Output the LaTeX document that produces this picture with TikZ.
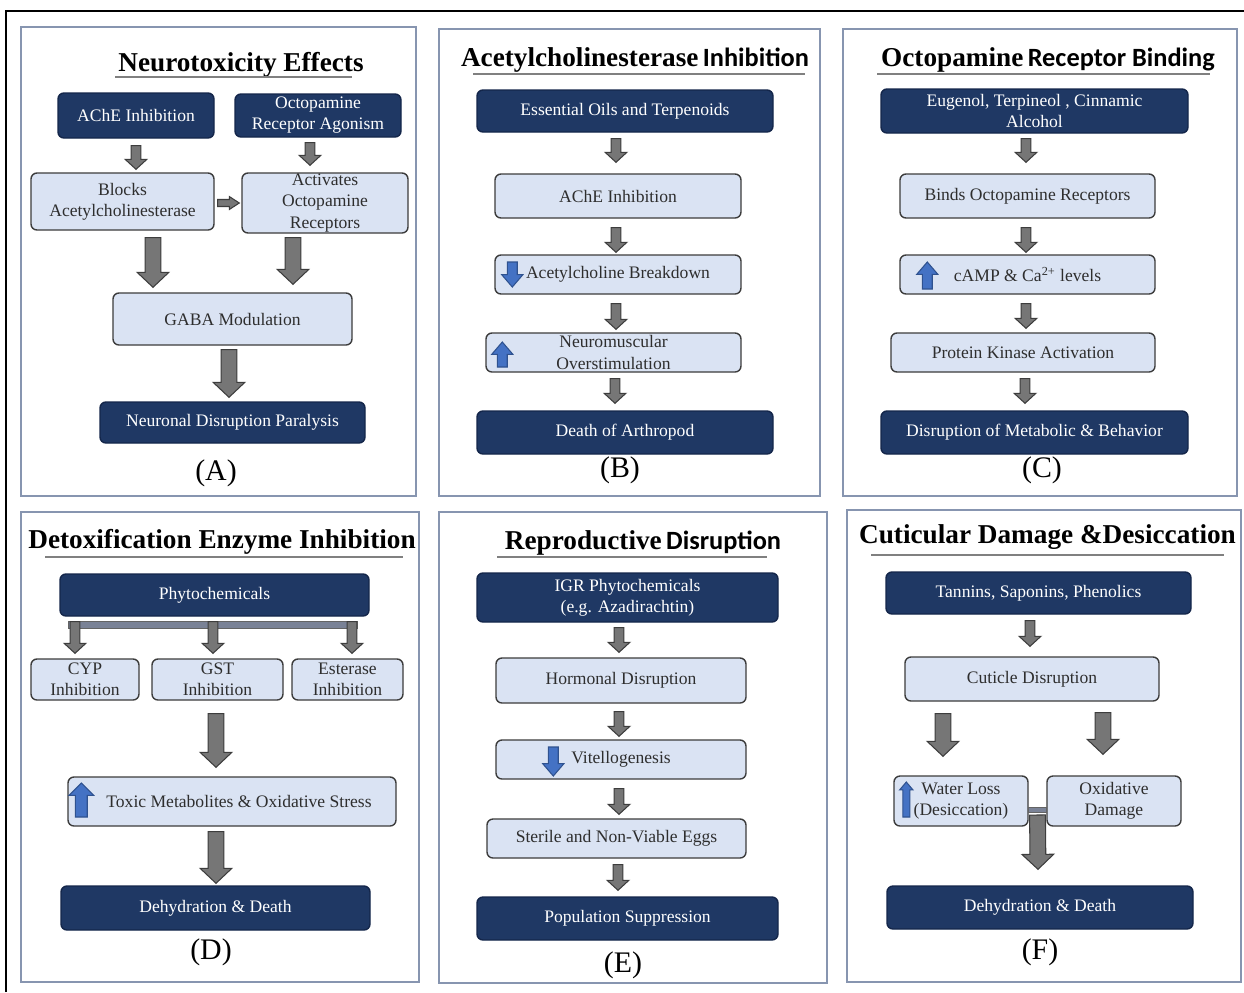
\documentclass[tikz,border=0pt]{standalone}
\usepackage{fontspec}
\setmainfont{Liberation Serif}
\newfontfamily\carlito{Carlito}
\usetikzlibrary{calc}
\definecolor{navy}{HTML}{1F3864}
\definecolor{navyedge}{HTML}{14264A}
\definecolor{lightfill}{HTML}{DAE3F3}
\definecolor{boxedge}{HTML}{3C3C3C}
\definecolor{boxtext}{HTML}{2E2E2E}
\definecolor{arrowgray}{HTML}{767676}
\definecolor{arrowedge}{HTML}{3D3D3D}
\definecolor{upblue}{HTML}{4472C4}
\definecolor{upblueedge}{HTML}{2F528F}
\definecolor{panelcol}{HTML}{8795B0}
\definecolor{barcol}{HTML}{7A8296}
\newcommand\boxfont{\fontsize{10}{12}\selectfont}
\newcommand\ttlserif{\fontsize{15.5}{18}\selectfont\bfseries}
\newcommand\ttlsans{\carlito\fontsize{15}{18}\selectfont\bfseries}
\tikzset{
  wh/.style 2 args={minimum width=#1*0.02cm, minimum height=#2*0.02cm},
  darkbox/.style={draw=navyedge, fill=navy, text=white, rounded corners=3.4pt,
    line width=0.8pt, align=center, inner sep=0pt, font=\boxfont},
  lightbox/.style={draw=boxedge, fill=lightfill, text=boxtext, rounded corners=3.4pt,
    line width=0.8pt, align=center, inner sep=0pt, font=\boxfont},
  ttl/.style={inner sep=0pt, text=black},
  plabel/.style={inner sep=0pt, font=\fontsize{17}{20}\selectfont},
  panel/.style={draw=panelcol, line width=0.9pt},
  uline/.style={draw=gray, line width=0.6pt},
  ar/.style={shift={(\p1)}, rotate=\n1},
  blockarrow/.style n args={3}{line width=0.6pt, line join=miter,
    to path={let \p1=(\tikztostart), \p2=(\tikztotarget),
      \n1={atan2(\y2-\y1,\x2-\x1)}, \n2={veclen(\x2-\x1,\y2-\y1)} in
      ([ar]0pt,#1) -- ([ar]{\n2*1pt-#3},#1) -- ([ar]{\n2*1pt-#3},#2)
      -- ([ar]{\n2*1pt},0pt) -- ([ar]{\n2*1pt-#3},-#2) -- ([ar]{\n2*1pt-#3},-#1)
      -- ([ar]0pt,-#1) -- cycle}},
  smallarrow/.style={blockarrow={2.8pt}{6.2pt}{5.7pt}, fill=arrowgray, draw=arrowedge},
  sidearrow/.style={blockarrow={2pt}{3.7pt}{5.7pt}, fill=arrowgray, draw=arrowedge},
  bigarrow/.style={blockarrow={4.5pt}{9pt}{8.5pt}, fill=arrowgray, draw=arrowedge},
  bluearrow/.style={blockarrow={2.8pt}{6pt}{7pt}, fill=upblue, draw=upblueedge},
  widebluearrow/.style={blockarrow={3.4pt}{7pt}{7pt}, fill=upblue, draw=upblueedge},
  thinbluearrow/.style={blockarrow={2pt}{3.8pt}{4.5pt}, fill=upblue, draw=upblueedge},
  joinbar/.style={fill=barcol, draw=arrowedge!80, line width=0.5pt},
}
\begin{document}
\begin{tikzpicture}[x=0.02cm,y=-0.02cm]
\useasboundingbox (0,0) rectangle (1244,992);
\fill[white] (0,0) rectangle (1244,992);
\draw[line width=1.2pt] (6,992) -- (6,11) -- (1244,11);
\draw[panel] (21,27) rectangle (416,496);
\draw[panel] (439,29) rectangle (820,496);
\draw[panel] (843,29) rectangle (1237,496);
\draw[panel] (21,512) rectangle (419,982);
\draw[panel] (439,512) rectangle (827,983);
\draw[panel] (847,510) rectangle (1241,982);

% (A)
\node[ttl, font=\ttlserif] (titA) at (241,65) {Neurotoxicity Effects};
\draw[uline] (115,77) -- (352,77);
\node[darkbox, wh={156}{45}] (ache) at (136,115.5) {AChE Inhibition};
\node[darkbox, wh={166}{43}] (octo) at (318,115.5) {Octopamine\\Receptor Agonism};
\node[lightbox, wh={183}{57}] (blocks) at (122.5,201.5) {Blocks\\Acetylcholinesterase};
\node[lightbox, wh={166}{60}] (activ) at (325,203) {Activates\\Octopamine\\Receptors};
\node[lightbox, wh={239}{52}] (gaba) at (232.5,319) {GABA Modulation};
\node[darkbox, wh={265}{41}] (neur) at (232.5,422.5) {Neuronal Disruption Paralysis};
\node[plabel] (labA) at (216,473) {(A)};
\draw[smallarrow] ($(ache.south)+(0,7)$) to ($(blocks.north)+(13.5,-3)$);
\draw[smallarrow] ($(octo.south)+(-8,5)$) to ($(activ.north)+(-15,-7)$);
\draw[sidearrow] ($(blocks.east)+(3,1.5)$) to ($(activ.west)+(-2,0)$);
\draw[bigarrow] ($(blocks.south)+(30.5,7)$) to ($(gaba.north)+(-79.5,-5)$);
\draw[bigarrow] ($(activ.south)+(-32,4)$) to ($(gaba.north)+(60.5,-8)$);
\draw[bigarrow] ($(gaba.south)+(-3.5,4)$) to ($(neur.north)+(-3.5,-4)$);

% (B)
\node[ttl] (titB) at (635,60) {{\ttlserif Acetylcholinesterase} {\ttlsans Inhibition}};
\draw[uline] (473,74) -- (805,74);
\node[darkbox, wh={296}{42}] (oils) at (625,111) {Essential Oils and Terpenoids};
\node[lightbox, wh={246}{44}] (ache2) at (618,196) {AChE Inhibition};
\node[lightbox, wh={246}{39}] (acb) at (618,274.5) {Acetylcholine Breakdown};
\node[lightbox, wh={255}{39}] (nmo) at (613.5,352.5) {Neuromuscular\\Overstimulation};
\node[darkbox, wh={296}{43}] (arth) at (625,432.5) {Death of Arthropod};
\node[plabel] (labB) at (620,470) {(B)};
\draw[smallarrow] ($(oils.south)+(-9,6)$) to ($(ache2.north)+(-2,-11)$);
\draw[smallarrow] ($(ache2.south)+(-2,9)$) to ($(acb.north)+(-2,-2)$);
\draw[smallarrow] ($(acb.south)+(-2,9)$) to ($(nmo.north)+(2.5,-3)$);
\draw[smallarrow] ($(nmo.south)+(1.5,6)$) to ($(arth.north)+(-10,-7)$);
\draw[bluearrow] ($(acb.west)+(18,-12.5)$) to ($(acb.west)+(18,12.5)$);
\draw[bluearrow] ($(nmo.west)+(17,14.5)$) to ($(nmo.west)+(17,-10.5)$);

% (C)
\node[ttl] (titC) at (1048,60) {{\ttlserif Octopamine} {\ttlsans Receptor Binding}};
\draw[uline] (877,74) -- (1210,74);
\node[darkbox, wh={307}{44}] (eug) at (1034.5,111) {Eugenol, Terpineol , Cinnamic\\Alcohol};
\node[lightbox, wh={255}{44}] (binds) at (1027.5,196) {Binds Octopamine Receptors};
\node[lightbox, wh={255}{39}] (camp) at (1027.5,274.5) {cAMP \& Ca\textsuperscript{2+} levels};
\node[lightbox, wh={264}{39}] (pka) at (1023,352.5) {Protein Kinase Activation};
\node[darkbox, wh={307}{43}] (metab) at (1034.5,432.5) {Disruption of Metabolic \& Behavior};
\node[plabel] (labC) at (1042,470) {(C)};
\draw[smallarrow] ($(eug.south)+(-8.5,5)$) to ($(binds.north)+(-1.5,-11)$);
\draw[smallarrow] ($(binds.south)+(-1.5,9)$) to ($(camp.north)+(-1.5,-2)$);
\draw[smallarrow] ($(camp.south)+(-1.5,9)$) to ($(pka.north)+(3,-4)$);
\draw[smallarrow] ($(pka.south)+(2,6)$) to ($(metab.north)+(-9.5,-7)$);
\draw[bluearrow] ($(camp.west)+(28,14.5)$) to ($(camp.west)+(28,-12.5)$);

% (D)
\node[ttl, font=\ttlserif] (titD) at (222,542) {Detoxification Enzyme Inhibition};
\draw[uline] (45,557) -- (403,557);
\node[darkbox, wh={309}{42}] (phyto) at (214.5,595) {Phytochemicals};
\node[lightbox, wh={108}{41}] (cyp) at (85,679.5) {CYP\\Inhibition};
\node[lightbox, wh={131}{41}] (gst) at (217.5,679.5) {GST\\Inhibition};
\node[lightbox, wh={111}{41}] (est) at (347.5,679.5) {Esterase\\Inhibition};
\node[lightbox, wh={328}{49}] (toxic) at (232,801.5) {\hspace*{8pt}Toxic Metabolites \& Oxidative Stress};
\node[darkbox, wh={309}{44}] (dehyd) at (215.5,908) {Dehydration \& Death};
\node[plabel] (labD) at (211,952) {(D)};
\draw[joinbar] ($(phyto.south)+(-146.5,5)$) rectangle ($(phyto.south)+(142.5,12)$);
\draw[smallarrow] ($(phyto.south)+(-139.5,5)$) to ($(cyp.north)+(-10,-5)$);
\draw[smallarrow] ($(phyto.south)+(-1.5,5)$) to ($(gst.north)+(-4.5,-5)$);
\draw[smallarrow] ($(phyto.south)+(137.5,5)$) to ($(est.north)+(4.5,-5)$);
\draw[bigarrow] ($(gst.south)+(-1.5,13)$) to ($(toxic.north)+(-16,-9)$);
\draw[bigarrow] ($(toxic.south)+(-16,5)$) to ($(dehyd.north)+(0.5,-2)$);
\draw[widebluearrow] ($(toxic.west)+(14,15.5)$) to ($(toxic.west)+(14,-18.5)$);

% (E)
\node[ttl] (titE) at (643,543) {{\ttlserif Reproductive} {\ttlsans Disruption}};
\draw[uline] (497,557) -- (767,557);
\node[darkbox, wh={301}{49}] (igr) at (627.5,597.5) {IGR Phytochemicals\\(e.g. Azadirachtin)};
\node[lightbox, wh={250}{45}] (horm) at (621,680.5) {Hormonal Disruption};
\node[lightbox, wh={250}{39}] (vit) at (621,759.5) {Vitellogenesis};
\node[lightbox, wh={259}{39}] (eggs) at (616.5,838.5) {Sterile and Non-Viable Eggs};
\node[darkbox, wh={301}{43}] (pop) at (627.5,918.5) {Population Suppression};
\node[plabel] (labE) at (623,965) {(E)};
\draw[smallarrow] ($(igr.south)+(-8.5,5)$) to ($(horm.north)+(-2,-5)$);
\draw[smallarrow] ($(horm.south)+(-2,8)$) to ($(vit.north)+(-2,-3)$);
\draw[smallarrow] ($(vit.south)+(-2,9)$) to ($(eggs.north)+(2.5,-4)$);
\draw[smallarrow] ($(eggs.south)+(1.5,6)$) to ($(pop.north)+(-9.5,-6)$);
\draw[bluearrow] ($(vit.west)+(58,-12.5)$) to ($(vit.west)+(58,16.5)$);

% (F)
\node[ttl, font=\ttlserif] (titF) at (1047.5,537) {Cuticular Damage \&Desiccation};
\draw[uline] (871,555) -- (1224,555);
\node[darkbox, wh={305}{42}] (tann) at (1038.5,593) {Tannins, Saponins, Phenolics};
\node[lightbox, wh={254}{44}] (cut) at (1032,679) {Cuticle Disruption};
\node[lightbox, wh={134}{50}] (water) at (961,801) {Water Loss\\(Desiccation)};
\node[lightbox, wh={134}{50}] (oxid) at (1114,801) {Oxidative\\Damage};
\node[darkbox, wh={306}{43}] (dehyd2) at (1040,907.5) {Dehydration \& Death};
\node[plabel] (labF) at (1040,952) {(F)};
\draw[smallarrow] ($(tann.south)+(-8.5,6)$) to ($(cut.north)+(-2,-10)$);
\draw[bigarrow] ($(cut.south)+(-89,12)$) to ($(water.north)+(-18,-19)$);
\draw[bigarrow] ($(cut.south)+(71,11)$) to ($(oxid.north)+(-11,-21)$);
\draw[joinbar] ($(water.east)+(0,6)$) rectangle ($(oxid.west)+(0,11)$);
\draw[bigarrow] ($(water.east)!0.5!(oxid.west)+(0,14)$) to ($(dehyd2.north)+(-2,-16)$);
\draw[thinbluearrow] ($(water.west)+(13,16)$) to ($(water.west)+(13,-19)$);
\end{tikzpicture}
\end{document}
